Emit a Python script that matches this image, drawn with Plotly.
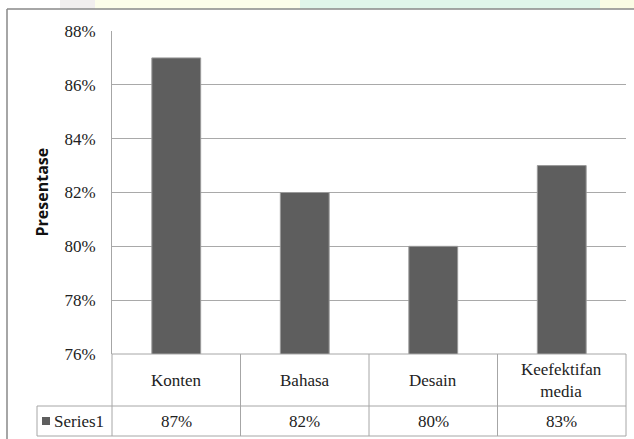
import plotly.graph_objects as go

categories = ["Konten", "Bahasa", "Desain", "Keefektifan<br>media"]
values = [0.87, 0.82, 0.80, 0.83]
value_labels = ["87%", "82%", "80%", "83%"]
series_name = "Series1"
y_title = "Presentase"
tick_vals = [0.76, 0.78, 0.80, 0.82, 0.84, 0.86, 0.88]

W, H = 634, 439
L, R, T, B = 112, 8, 31, 85
pw, ph = W - L - R, H - T - B

def px_x(X):
    return (X - L) / pw

def px_y(Y):
    return (H - B - Y) / ph

fig = go.Figure()
fig.add_trace(go.Bar(
    x=categories, y=values, width=0.38,
    marker=dict(color="#5e5e5e", line=dict(color="#9a9a9a", width=1)),
    showlegend=False,
))

serif = "Liberation Serif"
shapes = []
annotations = []

strip = [(0, 60, "#ffffff"), (60, 95, "#f1eeee"), (95, 300, "#fcfdea"),
         (300, 600, "#dff5ea"), (600, 634, "#fafce4")]
for x0, x1, c in strip:
    shapes.append(dict(type="rect", xref="paper", yref="paper",
                       x0=px_x(x0), x1=px_x(x1), y0=px_y(9), y1=px_y(0),
                       fillcolor=c, line=dict(width=0), layer="below"))

shapes.append(dict(type="line", xref="paper", yref="paper",
                   x0=px_x(7), x1=px_x(640), y0=px_y(9), y1=px_y(9),
                   line=dict(color="#888888", width=1.5)))
shapes.append(dict(type="line", xref="paper", yref="paper",
                   x0=px_x(7), x1=px_x(7), y0=px_y(9), y1=px_y(445),
                   line=dict(color="#888888", width=1.5)))

tc = "#a6a6a6"
y_top, y_mid, y_bot = px_y(354), px_y(406), px_y(436)
x_left_tab = px_x(37)
shapes.append(dict(type="line", xref="paper", yref="paper", x0=0, x1=1,
                   y0=y_top, y1=y_top, line=dict(color=tc, width=1)))
shapes.append(dict(type="line", xref="paper", yref="paper", x0=x_left_tab, x1=1,
                   y0=y_mid, y1=y_mid, line=dict(color=tc, width=1)))
shapes.append(dict(type="line", xref="paper", yref="paper", x0=x_left_tab, x1=1,
                   y0=y_bot, y1=y_bot, line=dict(color=tc, width=1)))
for k in range(len(categories) + 1):
    xv = k / len(categories)
    shapes.append(dict(type="line", xref="paper", yref="paper", x0=xv, x1=xv,
                       y0=y_top, y1=y_bot, line=dict(color=tc, width=1)))
shapes.append(dict(type="line", xref="paper", yref="paper", x0=x_left_tab, x1=x_left_tab,
                   y0=y_mid, y1=y_bot, line=dict(color=tc, width=1)))
shapes.append(dict(type="rect", xref="paper", yref="paper",
                   x0=px_x(42), x1=px_x(50), y0=px_y(425), y1=px_y(417),
                   fillcolor="#5e5e5e", line=dict(width=0)))

for c, v in zip(categories, value_labels):
    annotations.append(dict(x=c, xref="x", y=(y_top + y_mid) / 2, yref="paper",
                            text=c, showarrow=False, yanchor="middle",
                            font=dict(family=serif, size=17, color="#222222")))
    annotations.append(dict(x=c, xref="x", y=(y_mid + y_bot) / 2, yref="paper",
                            text=v, showarrow=False, yanchor="middle",
                            font=dict(family=serif, size=17, color="#222222")))
annotations.append(dict(x=px_x(52), xref="paper", y=(y_mid + y_bot) / 2, yref="paper",
                        text=series_name, showarrow=False, xanchor="left", yanchor="middle",
                        font=dict(family=serif, size=17, color="#222222")))
annotations.append(dict(x=px_x(41), xref="paper", y=0.5, yref="paper",
                        text="<b>" + y_title + "</b>", showarrow=False, textangle=-90,
                        xanchor="center", yanchor="middle",
                        font=dict(family="Open Sans", size=16, color="#111111")))

fig.update_layout(
    width=W, height=H,
    margin=dict(l=L, r=R, t=T, b=B, pad=0),
    paper_bgcolor="white", plot_bgcolor="white",
    bargap=0.62,
    xaxis=dict(showticklabels=False, showgrid=False, zeroline=False,
               showline=False, ticks=""),
    yaxis=dict(range=[0.76, 0.88], tickvals=tick_vals, tickformat=".0%",
               showgrid=True, gridcolor="#a9a9a9", gridwidth=1, zeroline=False,
               showline=True, linecolor="#a6a6a6", linewidth=1, ticks="",
               ticklabelstandoff=12,
               tickfont=dict(family=serif, size=17, color="#222222")),
    shapes=shapes, annotations=annotations,
)

fig.write_html("out.html")
